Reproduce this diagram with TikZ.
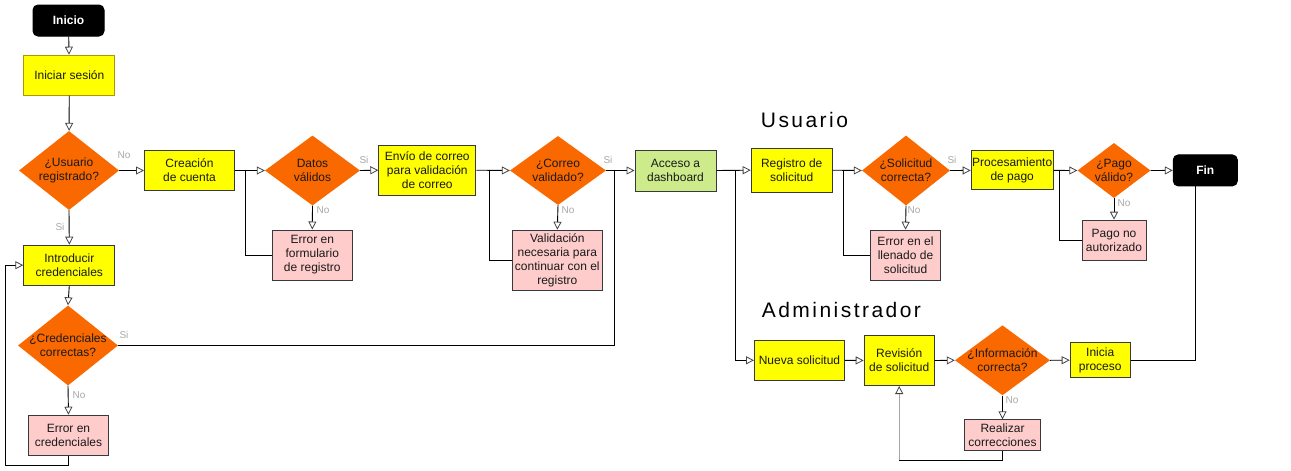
\documentclass[tikz,border=0pt]{standalone}
\usepackage{fontspec}
\setmainfont{Liberation Sans}
\newfontfamily\ttlfont[LetterSpace=11.7]{Liberation Sans}
\usetikzlibrary{shapes.geometric,arrows.meta}
\definecolor{yelF}{HTML}{FFFF00}
\definecolor{oliveD}{HTML}{B09500}
\definecolor{darkD}{HTML}{36393D}
\definecolor{oraF}{HTML}{FA6800}
\definecolor{pinkF}{HTML}{FFCCCC}
\definecolor{greenF}{HTML}{CDEB8B}
\definecolor{txt}{HTML}{1A1A1A}
\definecolor{lab}{HTML}{A8A8A8}
\definecolor{tipc}{HTML}{444444}
\tikzset{
  base/.style={align=center, inner sep=0pt, font=\fontsize{12}{14}\selectfont, text=txt, line width=1pt},
  ybox/.style={base, rectangle, fill=yelF, draw=darkD},
  pbox/.style={base, rectangle, fill=pinkF, draw=darkD},
  gbox/.style={base, rectangle, fill=greenF, draw=darkD},
  term/.style={base, rectangle, rounded corners=5pt, fill=black, draw=black, text=white, font=\fontsize{12}{14}\selectfont\bfseries},
  dec/.style={diamond, fill=oraF, draw=none, inner sep=0pt},
  dtext/.style={align=center, font=\fontsize{12}{14}\selectfont, text=txt},
  lab/.style={font=\fontsize{10}{12}\selectfont, text=lab, inner sep=0pt},
  conn/.style={line width=0.9pt, draw=black},
  arr/.style={conn, -{Triangle[open, length=8pt, width=8pt, color=tipc, line width=0.8pt]}},
  ttl/.style={font=\ttlfont\fontsize{21}{24}\selectfont, text=black, inner sep=0pt},
}
\begin{document}
\begin{tikzpicture}[x=1pt, y=-1pt]
\useasboundingbox (0,0) rectangle (1291,471);
\fill[white] (0,0) rectangle (1291,471);

% ---- nodes ----
\node[term, minimum width=71, minimum height=31] (inicio) at (68.5,20.5) {Inicio};
\node[ybox, draw=oliveD, minimum width=91, minimum height=40] (inis) at (69.3,75.2) {Iniciar sesión};
\node[dec, minimum width=100, minimum height=79, label={[dtext]center:{¿Usuario\\registrado?}}] (usr) at (69,170.5) {};
\node[ybox, minimum width=90, minimum height=40] (cc) at (189.5,170.5) {Creación\\de cuenta};
\node[dec, minimum width=95, minimum height=70, label={[dtext]center:{Datos\\válidos}}] (dat) at (312.5,170.5) {};
\node[pbox, minimum width=80, minimum height=50] (err1) at (312.3,255) {Error en\\formulario\\de registro};
\node[ybox, minimum width=97, minimum height=50] (env) at (427.3,170.2) {Envío de correo\\para validación\\de correo};
\node[dec, minimum width=96, minimum height=69, label={[dtext]center:{¿Correo\\validado?}}] (cor) at (558,170.5) {};
\node[pbox, minimum width=90, minimum height=60] (val) at (557.3,260.2) {Validación\\necesaria para\\continuar con el\\registro};
\node[gbox, minimum width=81, minimum height=41] (acc) at (675.5,170.5) {Acceso a\\dashboard};

\node[ttl, anchor=base west] (tusr) at (760.7,127.3) {Usuario};
\node[ybox, minimum width=81, minimum height=44] (reg) at (791.7,170.2) {Registro de\\solicitud};
\node[dec, minimum width=88, minimum height=70, label={[dtext]center:{¿Solicitud\\correcta?}}] (sol) at (906,170.5) {};
\node[pbox, minimum width=70, minimum height=50] (err3) at (905.5,255.2) {Error en el\\llenado de\\solicitud};
\node[ybox, minimum width=82, minimum height=39] (proc) at (1012.2,170.4) {Procesamiento\\de pago};
\node[dec, minimum width=73, minimum height=55, label={[dtext]center:{¿Pago\\válido?}}] (pag) at (1114,170.5) {};
\node[pbox, minimum width=64, minimum height=40] (pna) at (1114,240.2) {Pago no\\autorizado};
\node[term, minimum width=64, minimum height=31] (fin) at (1205.3,170.4) {Fin};

\node[ybox, minimum width=91, minimum height=40] (intro) at (69.3,265.2) {Introducir\\credenciales};
\node[dec, minimum width=100, minimum height=80, label={[dtext]center:{¿Credenciales\\correctas?}}] (cre) at (68,345.5) {};
\node[pbox, minimum width=80, minimum height=40] (errc) at (68.5,435.2) {Error en\\credenciales};

\node[ttl, anchor=base west] (tadm) at (761.7,317.3) {Administrador};
\node[ybox, minimum width=90, minimum height=40] (nueva) at (799.5,360.3) {Nueva solicitud};
\node[ybox, minimum width=70, minimum height=50] (rev) at (899.2,360.5) {Revisión\\de solicitud};
\node[dec, minimum width=95, minimum height=70, label={[dtext]center:{¿Información\\correcta?}}] (inf) at (1002.5,360.3) {};
\node[ybox, minimum width=60, minimum height=35] (ini) at (1100.2,360.2) {Inicia\\proceso};
\node[pbox, minimum width=76, minimum height=31] (rc) at (1002.5,435.3) {Realizar\\correcciones};

% ---- junction coordinates ----
\coordinate (j1) at (245,170.5);
\coordinate (j2) at (489.5,170.5);
\coordinate (j3) at (614,170.5);
\coordinate (j4) at (735,170.5);
\coordinate (j5) at (843.5,170.5);
\coordinate (j6) at (1059.5,170.5);
\coordinate (j7) at (1195,170.5);
\coordinate (lpA) at (5,465);
\coordinate (lpB) at (899.2,460);

% ---- connectors ----
\draw[arr] (inicio) -- (inis);
\draw[arr] (inis) -- (usr);
\draw[arr] (usr.east) -- (cc.west);
\draw[arr] (usr.south) -- (intro.north);
\draw[arr] (cc.east) -- (dat.west);
\draw[arr] (dat.south) -- (err1.north);
\draw[conn] (err1.west) -| (j1);
\draw[arr] (dat.east) -- (env.west);
\draw[arr] (env.east) -- (cor.west);
\draw[arr] (cor.south) -- (val.north);
\draw[conn] (val.west) -| (j2);
\draw[arr] (cor.east) -- (acc.west);
\draw[conn] (cre.east) -| (j3);
\draw[arr] (intro.south) -- (cre.north);
\draw[arr] (cre.south) -- (errc.north);
\draw[arr] (errc.south) |- (lpA) |- (intro.west);
\draw[arr] (acc.east) -- (reg.west);
\draw[arr] (j4) |- (nueva.west);
\draw[arr] (reg.east) -- (sol.west);
\draw[arr] (sol.south) -- (err3.north);
\draw[conn] (err3.west) -| (j5);
\draw[arr] (sol.east) -- (proc.west);
\draw[arr] (proc.east) -- (pag.west);
\draw[arr] (pag.south) -- (pna.north);
\draw[conn] (pna.west) -| (j6);
\draw[arr] (pag.east) -- (fin.west);
\draw[conn] (ini.east) -| (j7);
\draw[arr] (nueva.east) -- (rev.west);
\draw[arr] (rev.east) -- (inf.west);
\draw[arr] (inf.east) -- (ini.west);
\draw[arr] (inf.south) -- (rc.north);
\draw[conn] (rc.south) |- (lpB);
\draw[arr, draw=gray!70] (lpB) -- (rev.south);

% ---- branch labels ----
\node[lab] (l1) at (124,155) {No};
\node[lab] (l2) at (60,227) {Si};
\node[lab] (l3) at (364,160) {Si};
\node[lab] (l4) at (323,210) {No};
\node[lab] (l5) at (608,160) {Si};
\node[lab] (l6) at (568,210) {No};
\node[lab] (l7) at (124,335) {Si};
\node[lab] (l8) at (79,395) {No};
\node[lab] (l9) at (952,160) {Si};
\node[lab] (l10) at (914,210) {No};
\node[lab] (l11) at (1124,203) {No};
\node[lab] (l12) at (1012,400) {No};
\end{tikzpicture}
\end{document}
